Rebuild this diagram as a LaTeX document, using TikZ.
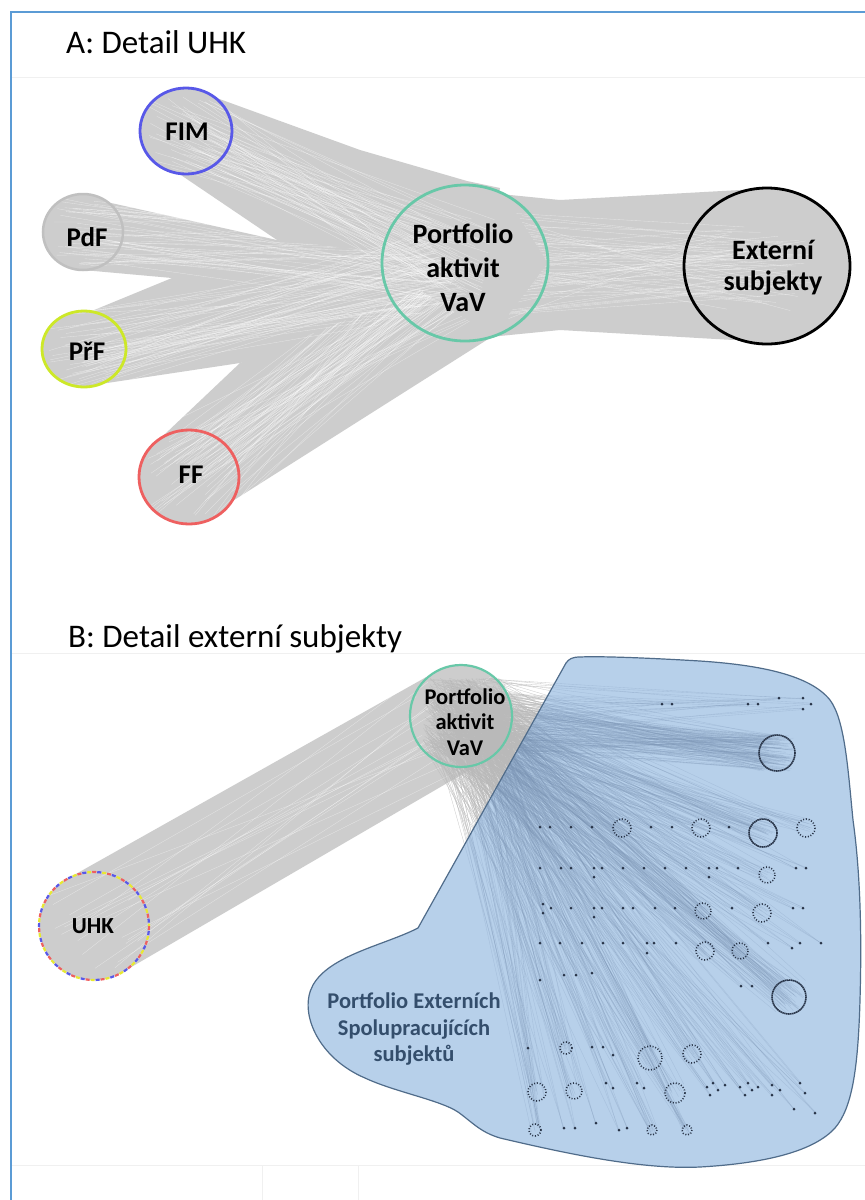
\documentclass[tikz,border=0pt]{standalone}
\usepackage{fontspec}
\setmainfont{Carlito}
\usetikzlibrary{shapes.geometric,calc}
\pgfdeclarelayer{bg}
\pgfsetlayers{bg,main}
\definecolor{bandgray}{RGB}{205,205,205}
\definecolor{fimblue}{RGB}{88,88,232}
\definecolor{pdfgray}{RGB}{192,192,192}
\definecolor{prfgreen}{RGB}{205,232,40}
\definecolor{ffred}{RGB}{238,96,96}
\definecolor{tealc}{RGB}{104,200,168}
\definecolor{uhkyellow}{RGB}{232,232,50}
\definecolor{framec}{RGB}{91,155,213}
\definecolor{blobfill}{RGB}{183,208,234}
\definecolor{blobedge}{RGB}{80,108,138}
\definecolor{blobtext}{RGB}{52,78,108}
\definecolor{dotc}{RGB}{40,52,72}
\definecolor{fangray}{RGB}{185,185,185}
\definecolor{fanblue}{RGB}{125,150,182}
\definecolor{faint}{RGB}{240,240,240}

\newcommand{\streaks}[4]{\foreach \k in {1,...,#3}{\draw[streak] ($(#1)+(rand*#4,rand*#4)$) -- ($(#2)+(rand*45,rand*45)$);}}
\newcommand{\fanto}[4]{\foreach \k in {1,...,#4}{\draw[fanline] ($(pB)+(rand*38,rand*38)$) -- ($(#1,#2)+(rand*#3,rand*#3)$);}}

\def\dotlist{779/698,803/698,662/704,672/704,748/704,758/704,811/704,803/709,%
540/827,550/827,571/827,592/827,651/827,672/827,729/827,%
540/868,561/868,571/868,594/868,594/877,602/868,623/868,644/868,665/868,686/868,709/868,709/877,717/868,738/868,796/868,806/868,%
543/904,543/913,551/908,571/908,594/908,594/917,602/908,623/908,633/908,655/908,675/908,732/908,793/908,803/908,%
540/943,560/943,582/943,603/943,623/943,647/943,647/953,654/943,676/943,768/943,792/948,800/943,821/943,%
540/980,564/975,576/975,592/973,741/986,752/986,%
528/1048,592/1047,603/1047,613/1055,%
606/1083,613/1088,637/1083,644/1088,707/1087,713/1083,718/1090,725/1085,710/1095,740/1087,748/1083,752/1090,758/1087,745/1095,772/1085,780/1090,772/1095,800/1083,805/1093,%
794/1109,815/1113,%
564/1128,575/1128,596/1123,619/1130,627/1128}
\def\ringlist{622/828/9,701/828/9,806/828/9,767/875/8,703/911/8,762/913/9,705/951/9,740/951/8,650/1058/12,692/1054/9,537/1092/9,574/1091/8,675/1093/10,566/1048/6,535/1130/6,652/1130/5,687/1130/5}
\def\bigringlist{777/753/18,763/833/14,789/997/17}

\def\fanset{%
\fanto{777}{753}{18}{150}%
\fanto{763}{833}{14}{50}%
\fanto{789}{997}{17}{60}%
\foreach \x/\y/\r in \ringlist {\fanto{\x}{\y}{\r}{14}}%
\foreach \x/\y in \dotlist {\fanto{\x}{\y}{1}{3}}%
}

\def\fimpath{(fim.50) -- (360,150) -- (467,181) -- (500,188) -- (480,300) -- (277,240) -- (fim.-100) -- (fim.-120) -- (fim.-150) -- (fim.180) -- (fim.150) -- (fim.120) -- (fim.90) -- (fim.70) -- cycle}
\def\pdfpath{(pdf.50) -- (277,240) -- (465,262) -- (420,330) -- (172,278) -- (pdf.-90) -- (pdf.-120) -- (pdf.-150) -- (pdf.180) -- (pdf.150) -- (pdf.120) -- (pdf.90) -- (pdf.70) -- cycle}
\def\prfpath{(prf.80) -- (172,278) -- (420,230) -- (470,300) -- (240,363) -- (prf.-65) -- (prf.-90) -- (prf.-120) -- (prf.-150) -- (prf.180) -- (prf.150) -- (prf.120) -- (prf.100) -- cycle}
\def\ffpath{(ff.127) -- (240,363) -- (420,290) -- (493,336) -- (ff.-30) -- (ff.-60) -- (ff.-90) -- (ff.-120) -- (ff.-150) -- (ff.180) -- (ff.150) -- cycle}
\def\extpath{(pA.60) -- (560,200) -- (740,190) -- (ext.90) -- (ext.60) -- (ext.30) -- (ext.0) -- (ext.-30) -- (ext.-60) -- (ext.-90) -- (ext.-110) -- (733,340) -- (560,330) -- (pA.-70) -- (pA.0) -- cycle}
\def\uhkpath{(uhk.120) -- (pB.120) -- (pB.90) -- (pB.60) -- (pB.30) -- (pB.0) -- (pB.-30) -- (pB.-60) -- (uhk.-60) -- (uhk.-90) -- (uhk.-120) -- (uhk.-150) -- (uhk.180) -- (uhk.150) -- cycle}
\def\blobpath{(566,663) -- (418,928)
 .. controls (385,945) and (330,955) .. (313,985)
 .. controls (298,1012) and (318,1058) .. (365,1078)
 .. controls (395,1092) and (440,1100) .. (458,1112)
 .. controls (472,1122) and (480,1132) .. (500,1138)
 .. controls (560,1152) and (640,1170) .. (700,1167)
 .. controls (770,1163) and (815,1150) .. (835,1128)
 .. controls (852,1108) and (858,1070) .. (860,1000)
 .. controls (862,930) and (860,870) .. (853,820)
 .. controls (848,770) and (845,720) .. (830,700)
 .. controls (810,675) and (760,665) .. (700,661)
 .. controls (650,658) and (600,656) .. (580,657)
 .. controls (572,657) and (569,659) .. (566,663) -- cycle}

\begin{document}
\begin{tikzpicture}[x=1pt,y=-1pt,
  circ/.style={ellipse, inner sep=0pt, outer sep=0pt},
  lab/.style={font=\bfseries\fontsize{27}{32}\selectfont, align=center, inner sep=0pt},
  title/.style={anchor=base west, inner sep=0pt, font=\fontsize{33}{40}\selectfont},
  streak/.style={draw=white, line width=0.35pt, opacity=0.45},
  fanline/.style={draw=fangray, line width=0.3pt, opacity=0.8},
  ringc/.style={draw=dotc, line width=1.6pt, dash pattern=on 1pt off 1.8pt},
  bigring/.style={draw=dotc, line width=1.6pt, dash pattern=on 1.5pt off 0.5pt}]
\useasboundingbox (0,0) rectangle (865,1200);

% ---------- nodes (panel A)
\node[circ, draw=fimblue, line width=2.8pt, minimum width=92pt, minimum height=86pt] (fim) at (186,131) {};
\node[circ, draw=pdfgray, line width=2.5pt, minimum width=80pt, minimum height=76pt] (pdf) at (83,232) {};
\node[circ, draw=prfgreen, line width=2.8pt, minimum width=84pt, minimum height=76pt] (prf) at (84,349) {};
\node[circ, draw=ffred, line width=2.8pt, minimum width=100pt, minimum height=94pt] (ff) at (189,477) {};
\node[circ, draw=tealc, line width=2.8pt, minimum width=166pt, minimum height=156pt] (pA) at (465,263) {};
\node[circ, draw=black, line width=2.8pt, minimum width=166pt, minimum height=156pt] (ext) at (767,266) {};
\node[lab] (fimT) at (187,132) {FIM};
\node[lab] (pdfT) at (87,237) {PdF};
\node[lab] (prfT) at (87,351) {PřF};
\node[lab] (ffT) at (191,475) {FF};
\node[lab, font=\bfseries\fontsize{28}{34}\selectfont] (pAT) at (463,268) {Portfolio\\aktivit\\VaV};
\node[lab, font=\bfseries\fontsize{28}{31}\selectfont] (extT) at (773,268) {Externí\\subjekty};

% ---------- nodes (panel B)
\node[circ, draw=tealc, line width=2.2pt, minimum width=102pt, minimum height=102pt] (pB) at (461,716) {};
\node[circ, minimum width=110pt, minimum height=108pt] (uhk) at (94,926) {};
\node[lab, font=\bfseries\fontsize{22.5}{25.5}\selectfont] (pBT) at (465,722) {Portfolio\\aktivit\\VaV};
\node[lab, font=\bfseries\fontsize{23}{25}\selectfont] (uhkT) at (93,926) {UHK};
\node[lab, text=blobtext, font=\bfseries\fontsize{22.5}{26.5}\selectfont] (blobT) at (414,1029) {Portfolio Externích\\Spolupracujících\\subjektů};

% ---------- titles
\node[title] (titleA) at (66,53) {A: Detail UHK};
\node[title] (titleB) at (68,647) {B: Detail externí subjekty};

% UHK multicoloured dashed ring
\foreach \c/\ph in {ffred/0,uhkyellow/5,fimblue/10}
  \draw[\c, line width=2.2pt, dash pattern=on 4pt off 11pt, dash phase=\ph pt] (uhk.center) ellipse [x radius=55, y radius=54];

% dots and rings of panel B
\foreach \x/\y in \dotlist {\fill[dotc] (\x,\y) circle (1.5);}
\foreach \x/\y/\r in \ringlist {\draw[ringc] (\x,\y) circle (\r);}
\foreach \x/\y/\r in \bigringlist {\draw[bigring] (\x,\y) circle (\r);}

% frame
\draw[framec, line width=1.5pt] (11,1200) -- (11,12) -- (865,12);

\begin{pgfonlayer}{bg}
\fill[white] (0,0) rectangle (865,1200);
\draw[faint, line width=0.8pt] (12,77) -- (865,77);
\draw[faint, line width=0.8pt] (12,653) -- (865,653);
\draw[faint, line width=0.8pt] (12,1165) -- (865,1165);
\draw[faint, line width=0.8pt] (262,1165) -- (262,1200);
\draw[faint, line width=0.8pt] (358,1165) -- (358,1200);

% panel A bands
\fill[bandgray] \fimpath;
\fill[bandgray] \pdfpath;
\fill[bandgray] \prfpath;
\fill[bandgray] \ffpath;
\fill[bandgray] \extpath;
\fill[bandgray] (fim.center) ellipse [x radius=46, y radius=43];
\fill[bandgray] (pdf.center) ellipse [x radius=40, y radius=38];
\fill[bandgray] (prf.center) ellipse [x radius=42, y radius=38];
\fill[bandgray] (ff.center) ellipse [x radius=50, y radius=47];
\fill[bandgray] (pA.center) ellipse [x radius=83, y radius=78];
\fill[bandgray] (ext.center) ellipse [x radius=83, y radius=78];

\pgfmathsetseed{42}
\begin{scope}\clip \fimpath; \streaks{fim}{pA}{60}{40} \end{scope}
\begin{scope}\clip \pdfpath; \streaks{pdf}{pA}{50}{35} \end{scope}
\begin{scope}\clip \prfpath; \streaks{prf}{pA}{60}{38} \end{scope}
\begin{scope}\clip \ffpath; \streaks{ff}{pA}{70}{44} \end{scope}
\begin{scope}\clip \extpath; \streaks{pA}{ext}{60}{60} \end{scope}

% panel B band
\fill[bandgray] \uhkpath;
\fill[bandgray] (uhk.center) ellipse [x radius=55, y radius=54];
\fill[bandgray] (pB.center) ellipse [x radius=51, y radius=51];
\begin{scope}\clip \uhkpath; \streaks{uhk}{pB}{18}{45} \end{scope}

% fan of links (grey, outside the blob)
\pgfmathsetseed{7}
\fanset
% blob
\fill[blobfill] \blobpath;
\begin{scope}[fanline/.style={draw=fanblue, line width=0.35pt, opacity=0.3}]
\clip \blobpath;
\pgfmathsetseed{7}
\fanset
\end{scope}
\draw[blobedge, line width=1.2pt] \blobpath;
\end{pgfonlayer}
\end{tikzpicture}
\end{document}
